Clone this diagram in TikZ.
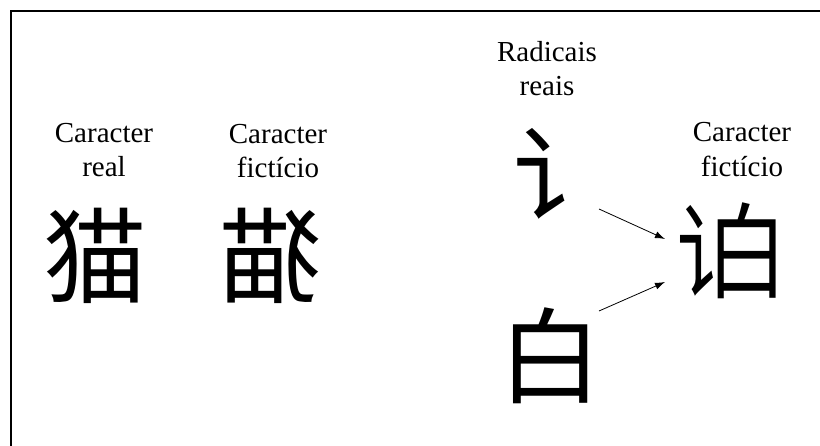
\documentclass[tikz,border=0pt]{standalone}
\usepackage{fontspec}
\usepackage{graphicx}
\setmainfont{Liberation Serif}
\newfontfamily\cjksong{Noto Sans CJK SC}
\usetikzlibrary{arrows.meta}
\tikzset{
  lbl/.style={anchor=base, inner sep=0pt, font=\fontsize{29}{34}\selectfont},
  han/.style={anchor=base, inner sep=0pt, font=\fontsize{104}{110}\cjksong},
  arr/.style={-{Latex[length=10pt,width=7pt]}, line width=0.8pt},
  frame/.style={line width=1.5pt}
}
\begin{document}
\begin{tikzpicture}[x=1pt,y=-1pt]
\useasboundingbox (0,0) rectangle (820,446);
\fill[white] (0,0) rectangle (820,446);
\coordinate (fbl) at (11,446);
\coordinate (ftl) at (11,11);
\coordinate (ftr) at (820,11);
\draw[frame] (fbl) -- (ftl) -- (ftr);
% labels
\node[lbl] (c1) at (104,143) {Caracter};
\node[lbl] (r1) at (104,177) {real};
\node[lbl] (c2) at (278,144) {Caracter};
\node[lbl] (f2) at (278,178) {fictício};
\node[lbl] (rad) at (547,62) {Radicais};
\node[lbl] (rea) at (547,96) {reais};
\node[lbl] (c4) at (742,142) {Caracter};
\node[lbl] (f4) at (742,177) {fictício};
% characters
\node[han] (mao) at (95,296) {猫};
\node[han] (mir) at (270,296) {\reflectbox{猫}};
\node[han] (yan) at (565,214) {讠};
\node[han] (bai) at (550,396) {白};
\node[han] (fy) at (714,291) {\scalebox{0.7}[1]{讠}};
\node[han] (fb) at (747,291) {\scalebox{0.78}[1]{白}};
% arrows
\coordinate (a1s) at (599,209);
\coordinate (a1e) at (665,239);
\coordinate (a2s) at (599,311);
\coordinate (a2e) at (665,282);
\draw[arr] (a1s) -- (a1e);
\draw[arr] (a2s) -- (a2e);
\end{tikzpicture}
\end{document}
